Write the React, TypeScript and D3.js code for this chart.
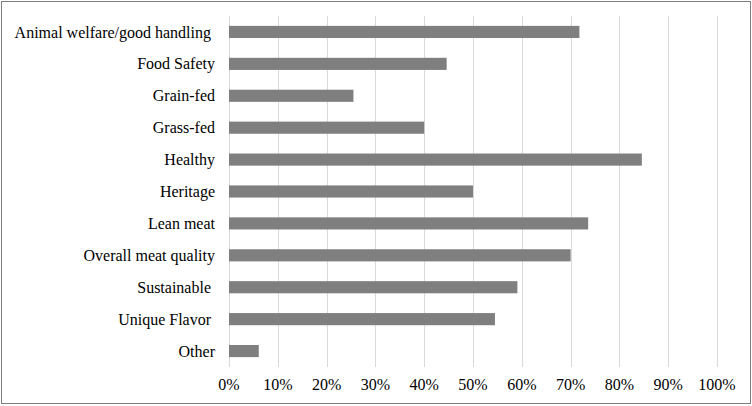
import { useEffect, useRef } from 'react';
import * as d3 from 'd3';

const categories = [
  'Animal welfare/good handling ',
  'Food Safety',
  'Grain-fed',
  'Grass-fed',
  'Healthy',
  'Heritage',
  'Lean meat',
  'Overall meat quality',
  'Sustainable ',
  'Unique Flavor ',
  'Other',
];
const shares = [0.718, 0.446, 0.255, 0.4, 0.846, 0.5, 0.736, 0.7, 0.591, 0.545, 0.061];
const xTicks = [0, 0.1, 0.2, 0.3, 0.4, 0.5, 0.6, 0.7, 0.8, 0.9, 1.0];

const width = 752;
const height = 406;

export default function App() {
  const ref = useRef<SVGSVGElement>(null);

  useEffect(() => {
    document.body.style.margin = '0';
    if (!ref.current) return;
    const svg = d3.select(ref.current);
    svg.selectAll('*').remove();

    const margin = { top: 16, right: 35, bottom: 39, left: 229 };
    const innerW = width - margin.left - margin.right;
    const innerH = height - margin.top - margin.bottom;
    const font = 'Liberation Serif';

    svg
      .append('rect')
      .attr('x', 1.5)
      .attr('y', 1.5)
      .attr('width', width - 3)
      .attr('height', height - 4)
      .attr('fill', '#fff')
      .attr('stroke', '#7f7f7f')
      .attr('stroke-width', 1);

    const g = svg.append('g').attr('transform', `translate(${margin.left},${margin.top})`);

    const x = d3.scaleLinear().domain([0, 1]).range([0, innerW]);
    const y = d3.scaleBand().domain(categories).range([0, innerH]).paddingInner(0.62).paddingOuter(0.31);

    g.selectAll('line.grid')
      .data(xTicks)
      .join('line')
      .attr('class', 'grid')
      .attr('x1', (d) => Math.round(x(d)) + 0.5)
      .attr('x2', (d) => Math.round(x(d)) + 0.5)
      .attr('y1', 0)
      .attr('y2', innerH)
      .attr('stroke', '#d9d9d9')
      .attr('stroke-width', 1);

    g.selectAll('rect.bar')
      .data(categories)
      .join('rect')
      .attr('class', 'bar')
      .attr('x', x(0))
      .attr('y', (d) => y(d) ?? 0)
      .attr('width', (_, i) => x(shares[i]) - x(0))
      .attr('height', y.bandwidth())
      .attr('fill', '#7f7f7f');

    g.selectAll('text.cat')
      .data(categories)
      .join('text')
      .attr('class', 'cat')
      .attr('x', -14)
      .attr('y', (d) => (y(d) ?? 0) + y.bandwidth() / 2)
      .attr('dy', '0.35em')
      .attr('text-anchor', 'end')
      .style('font-family', font)
      .style('font-size', '16px')
      .style('white-space', 'pre')
      .attr('fill', '#000')
      .text((d) => d);

    g.selectAll('text.tick')
      .data(xTicks)
      .join('text')
      .attr('class', 'tick')
      .attr('x', (d) => x(d))
      .attr('y', innerH + 17)
      .attr('dy', '0.35em')
      .attr('text-anchor', 'middle')
      .style('font-family', font)
      .style('font-size', '16px')
      .attr('fill', '#000')
      .text((d) => d3.format('.0%')(d));
  }, []);

  return <svg ref={ref} width={width} height={height} style={{ display: 'block' }} />;
}
